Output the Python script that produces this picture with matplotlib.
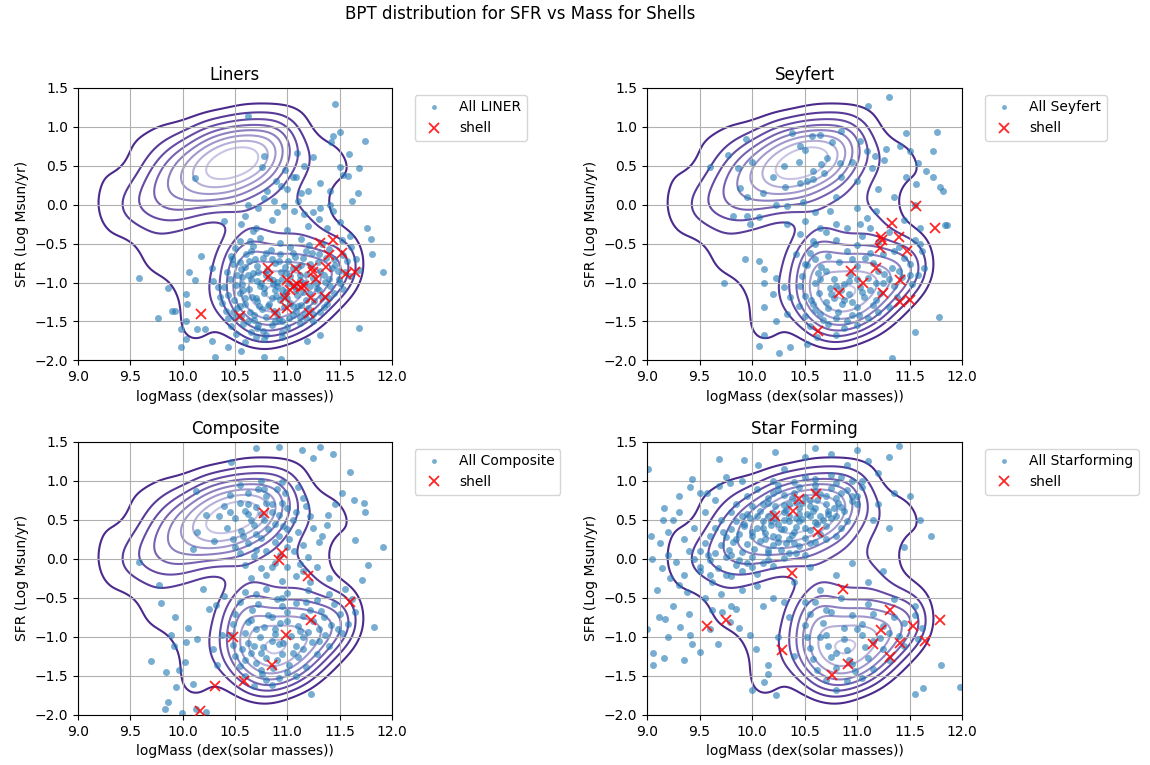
"""BPT classes in the SFR vs stellar mass plane, with shell galaxies marked."""

import numpy as np
import matplotlib
matplotlib.use("Agg")
import matplotlib.pyplot as plt
from matplotlib.colors import LinearSegmentedColormap

# ---- blue clouds: (logMass, SFR) ----
liner_pts = [
    (11.46, 1.30), (11.50, 0.94), (11.44, 0.88), (11.42, 0.80), (11.74, 0.82), (11.59, 0.65),
    (10.62, 1.14), (11.09, 0.67), (11.25, 0.61), (11.16, 0.50), (11.50, 0.48), (11.58, 0.37),
    (11.53, 0.38), (11.69, 0.47), (10.78, 0.62), (10.76, 0.48), (10.12, 0.34), (10.98, 0.45),
    (11.08, 0.35), (10.89, 0.30), (10.81, 0.18), (10.94, 0.24), (11.00, 0.20), (11.13, 0.15),
    (11.20, 0.18), (11.31, 0.28), (11.41, 0.18), (11.68, 0.15), (11.62, 0.05), (10.62, 0.00),
    (10.72, -0.04), (10.78, 0.09), (10.87, 0.05), (10.97, -0.02), (11.06, -0.08), (11.16, -0.12),
    (11.25, -0.10), (11.31, -0.04), (11.41, 0.00), (11.44, -0.08), (10.40, -0.21), (10.56, -0.25),
    (10.67, -0.34), (10.64, -0.47), (11.76, -0.30), (11.80, -0.44), (11.81, -0.64), (11.91, -0.87),
    (11.69, -1.58), (9.58, -0.94), (9.86, -1.07), (9.76, -1.45), (9.90, -1.36), (9.93, -1.36),
    (10.03, -1.15), (10.04, -1.27), (10.06, -0.87), (10.12, -0.97), (10.18, -0.66), (9.98, -1.60),
    (10.03, -1.50), (9.98, -1.83), (10.03, -1.73), (10.14, -1.60), (10.21, -1.60), (10.28, -1.75),
    (10.31, -1.96), (10.43, -1.83), (10.56, -1.88), (10.78, -1.96), (10.94, -1.98), (11.19, -1.75),
    (11.31, -1.68), (10.28, -0.81), (10.29, -0.98), (10.34, -1.06), (10.36, -1.19),
    (10.70, -0.30), (10.85, -0.20), (11.00, -0.32), (11.20, -0.28), (11.38, -0.30), (11.50, -0.22),
    (10.90, -0.10), (11.10, 0.05), (11.30, -0.18), (10.60, -0.15), (11.60, -0.40), (11.05, 0.35),
    (10.55, -0.47), (10.74, -0.43), (10.93, -0.49), (11.13, -0.44), (11.33, -0.50), (11.52, -0.46),
    (10.50, -0.56), (10.67, -0.53), (10.84, -0.58), (11.03, -0.55), (11.21, -0.52), (11.40, -0.57),
    (11.61, -0.55), (10.46, -0.66), (10.61, -0.63), (10.77, -0.68), (10.93, -0.64), (11.07, -0.67),
    (11.24, -0.62), (11.37, -0.69), (11.53, -0.65), (11.66, -0.70), (10.48, -0.76), (10.63, -0.73),
    (10.71, -0.79), (10.88, -0.75), (11.01, -0.72), (11.13, -0.78), (11.29, -0.74), (11.46, -0.77),
    (11.57, -0.73), (10.42, -0.86), (10.56, -0.83), (10.67, -0.88), (10.81, -0.84), (10.94, -0.87),
    (11.05, -0.82), (11.19, -0.89), (11.31, -0.85), (11.43, -0.81), (11.55, -0.87), (11.69, -0.84),
    (10.45, -0.96), (10.57, -0.93), (10.71, -0.98), (10.83, -0.94), (10.90, -0.99), (11.03, -0.92),
    (11.12, -0.97), (11.25, -0.94), (11.36, -0.99), (11.49, -0.95), (11.60, -0.92), (10.40, -1.06),
    (10.51, -1.03), (10.63, -1.08), (10.74, -1.04), (10.86, -1.02), (10.95, -1.09), (11.06, -1.05),
    (11.16, -1.01), (11.28, -1.07), (11.41, -1.04), (11.53, -1.08), (10.43, -1.16), (10.55, -1.13),
    (10.66, -1.18), (10.78, -1.14), (10.89, -1.17), (10.99, -1.12), (11.09, -1.16), (11.21, -1.13),
    (11.33, -1.18), (11.45, -1.14), (10.38, -1.26), (10.49, -1.23), (10.60, -1.28), (10.71, -1.24),
    (10.83, -1.27), (10.93, -1.22), (11.03, -1.26), (11.13, -1.29), (11.26, -1.24), (11.38, -1.27),
    (10.41, -1.36), (10.52, -1.33), (10.64, -1.38), (10.76, -1.34), (10.87, -1.37), (10.97, -1.32),
    (11.08, -1.36), (11.20, -1.33), (11.31, -1.38), (10.43, -1.46), (10.56, -1.43), (10.68, -1.48),
    (10.80, -1.44), (10.92, -1.47), (11.05, -1.42), (11.18, -1.46), (10.46, -1.56), (10.58, -1.53),
    (10.71, -1.58), (10.85, -1.54), (11.00, -1.57), (11.12, -1.52), (10.51, -1.66), (10.65, -1.63),
    (10.80, -1.68), (10.95, -1.64), (10.60, -1.76), (10.78, -1.73),
    (10.62, -0.90), (10.75, -1.00), (10.88, -1.10), (11.00, -1.20), (11.12, -0.90), (11.22, -1.05),
    (10.70, -1.20), (10.82, -1.30), (10.95, -0.95), (11.08, -1.10), (11.18, -1.22), (10.58, -1.10),
    (10.68, -1.42), (10.90, -1.40), (11.10, -1.30), (11.30, -1.10), (11.35, -0.90), (10.80, -0.90),
    (10.98, -0.80), (11.15, -0.68), (10.55, -1.30), (10.72, -1.55), (10.50, -1.45), (11.25, -1.40),
    (11.40, -1.20), (10.85, -0.70), (10.65, -0.60), (11.45, -0.70), (10.95, -1.50), (10.60, -0.80),
    (10.52, -0.90), (10.65, -0.96), (10.78, -1.07), (10.90, -1.04), (11.02, -1.00), (11.15, -1.12),
    (11.27, -1.00), (11.40, -0.95), (10.60, -1.20), (10.73, -1.30), (10.85, -1.20), (10.96, -1.17),
    (11.05, -1.30), (11.17, -1.40), (10.62, -1.50), (10.77, -1.62), (10.88, -1.50), (11.02, -1.46),
    (10.48, -1.38), (10.57, -1.02), (10.69, -0.70), (10.80, -0.62), (10.92, -0.72), (11.05, -0.62),
    (11.18, -0.60), (11.30, -0.64), (11.48, -0.85), (11.50, -1.00), (11.35, -1.32), (10.99, -0.88),
    (10.86, -0.97), (10.72, -0.87), (11.10, -0.80), (11.22, -0.76), (10.47, -0.70), (10.55, -0.74),
    (11.12, -1.44), (10.95, -1.70), (10.70, -1.70), (11.25, -1.50),
]

seyfert_pts = [
    (11.30, 1.39), (11.10, 1.27), (9.94, 0.85), (9.60, 0.48), (9.77, 0.64), (9.87, 0.47),
    (9.89, 0.22), (9.73, -1.00), (9.93, -0.70), (10.07, -0.72), (10.11, -0.83), (10.11, -1.00),
    (9.82, -0.15), (9.95, -0.15), (10.07, -0.16), (9.98, -0.25), (10.23, 0.00), (10.33, -0.02),
    (10.49, 0.03), (10.31, 0.23), (10.46, 0.28), (10.58, 0.33), (10.69, 0.41), (10.71, 0.60),
    (10.84, 0.54), (10.76, 0.80), (10.57, 0.88), (10.46, 0.75), (10.38, 0.92), (10.66, 0.52),
    (10.58, 0.43), (10.52, 0.30), (11.03, 0.82), (11.09, 0.69), (11.17, 0.62), (11.14, 0.47),
    (11.28, 0.71), (11.26, 0.58), (11.41, 0.75), (11.50, 0.69), (11.47, 0.92), (11.76, 0.94),
    (11.72, 0.69), (11.58, 0.54), (11.66, 0.43), (11.72, 0.35), (11.79, 0.23), (11.82, 0.18),
    (11.56, 0.26), (11.47, 0.35), (11.84, -0.26), (11.86, -0.26), (11.78, -1.44), (11.55, -1.64),
    (11.33, -1.97), (10.07, -1.81), (10.11, -1.68), (10.11, -1.32), (10.20, -1.15), (10.23, -1.49),
    (10.26, -1.90), (10.36, -1.83), (10.52, -1.79), (11.00, -0.04), (11.09, -0.17), (11.18, -0.08),
    (11.03, -0.25), (11.12, -0.30), (10.74, -0.08), (10.80, -0.25), (10.65, -0.30), (10.58, -0.47),
    (10.50, -0.21), (10.33, -0.25), (10.46, -0.38), (10.42, -0.64), (10.52, -0.77), (10.23, -0.94),
    (10.30, -1.06), (10.36, -1.19), (10.33, -1.40),
    (10.60, -0.50), (10.80, -0.45), (11.00, -0.52), (11.20, -0.48), (11.40, -0.55), (11.55, -0.45),
    (10.55, -0.62), (10.72, -0.66), (10.90, -0.60), (11.08, -0.68), (11.25, -0.63), (11.45, -0.68),
    (11.62, -0.60), (10.50, -0.76), (10.66, -0.80), (10.83, -0.74), (11.00, -0.79), (11.15, -0.75),
    (11.33, -0.81), (11.50, -0.76), (11.64, -0.82), (10.48, -0.92), (10.63, -0.88), (10.78, -0.95),
    (10.93, -0.90), (11.10, -0.94), (11.26, -0.89), (11.43, -0.93), (11.58, -0.90), (10.46, -1.04),
    (10.60, -1.00), (10.74, -1.07), (10.88, -1.02), (11.03, -1.06), (11.18, -1.01), (11.35, -1.05),
    (11.52, -1.02), (10.50, -1.17), (10.64, -1.14), (10.78, -1.20), (10.92, -1.15), (11.07, -1.19),
    (11.22, -1.14), (11.38, -1.18), (10.45, -1.30), (10.58, -1.27), (10.72, -1.33), (10.86, -1.28),
    (11.00, -1.32), (11.15, -1.29), (11.30, -1.31), (10.50, -1.43), (10.65, -1.40), (10.80, -1.46),
    (10.95, -1.42), (11.10, -1.45), (10.55, -1.56), (10.72, -1.53), (10.88, -1.58), (11.00, -1.55),
    (10.62, -1.70), (10.80, -1.68), (10.70, -0.85), (10.85, -1.10), (11.00, -0.95), (11.12, -1.10),
    (10.70, -1.25), (10.95, -1.25), (11.30, -0.95), (10.60, -1.35), (10.82, -1.38), (11.20, -0.85),
    (10.90, -0.30), (11.05, -0.40), (11.30, -0.35), (11.45, -0.20), (11.60, -0.30), (10.70, -0.35),
    (11.55, 0.00), (11.35, 0.10), (11.20, 0.20), (11.00, 0.30), (10.80, 0.10), (10.60, -0.10),
    (10.30, 0.50), (10.45, 0.55), (10.20, 0.35), (10.00, 0.55), (10.50, 0.70), (10.65, 0.90),
    (10.85, 0.95), (10.95, 0.55), (10.85, 0.35), (10.10, 0.15), (9.95, 0.10),
    (10.65, -0.95), (10.80, -1.05), (10.92, -0.98), (11.05, -1.12), (11.18, -1.22), (10.75, -1.15),
    (10.88, -1.22), (11.02, -1.42), (10.68, -1.48), (11.25, -1.00), (11.40, -0.85), (11.12, -0.62),
    (10.95, -0.70), (10.60, -0.70), (11.35, -0.60), (11.50, -0.90), (10.90, -1.50), (11.20, -1.38),
    (10.56, -1.22), (11.60, -0.50),
]

composite_pts = [
    (10.70, 1.42), (10.92, 1.44), (11.14, 1.39), (11.31, 1.44), (11.44, 1.35), (11.25, 1.29),
    (10.46, 1.24), (11.60, 1.12), (11.52, 0.84), (11.64, 0.76), (11.73, 0.72), (11.74, 0.60),
    (11.46, 0.71), (11.39, 0.56), (11.38, 0.43), (11.33, 0.30), (11.65, 0.24), (11.91, 0.15),
    (11.77, -0.08), (11.71, -0.27), (11.83, -0.87), (10.13, 0.87), (10.22, 0.56), (10.14, 0.35),
    (10.30, 0.23), (10.10, 0.13), (9.58, -0.04), (9.77, -0.34), (9.79, -0.56), (9.93, -0.74),
    (9.89, -0.98), (9.92, -1.11), (10.05, -0.89), (10.03, -1.06), (10.14, -1.03), (10.19, -0.38),
    (10.25, -0.64), (10.32, -0.59), (10.40, -0.47), (9.70, -1.31), (9.84, -1.45), (9.97, -1.43),
    (10.02, -1.32), (10.10, -1.60), (9.94, -1.64), (9.86, -1.84), (9.83, -1.92), (9.99, -1.98),
    (10.13, -1.92), (10.22, -1.96), (11.23, -1.73), (10.29, -1.15), (10.33, -1.36), (10.38, -0.98),
    (10.55, 0.95), (10.75, 1.00), (10.95, 0.98), (11.10, 0.92), (10.45, 0.82), (10.62, 0.85),
    (10.80, 0.80), (10.98, 0.84), (11.15, 0.78), (10.40, 0.68), (10.55, 0.72), (10.70, 0.66),
    (10.85, 0.70), (11.00, 0.65), (11.18, 0.68), (10.35, 0.55), (10.50, 0.52), (10.62, 0.58),
    (10.78, 0.50), (10.92, 0.56), (11.05, 0.50), (11.22, 0.55), (10.42, 0.40), (10.56, 0.36),
    (10.68, 0.43), (10.82, 0.38), (10.96, 0.42), (11.10, 0.35), (11.25, 0.40), (10.48, 0.25),
    (10.62, 0.20), (10.75, 0.27), (10.88, 0.22), (11.02, 0.26), (11.15, 0.18), (11.30, 0.22),
    (10.55, 0.08), (10.68, 0.04), (10.80, 0.10), (10.93, 0.05), (11.06, 0.10), (11.20, 0.02),
    (10.60, -0.08), (10.75, -0.12), (10.88, -0.05), (11.00, -0.10), (11.12, -0.06), (11.28, -0.10),
    (10.65, -0.25), (10.80, -0.20), (10.95, -0.28), (11.08, -0.22), (11.22, -0.30), (11.40, -0.25),
    (10.60, 0.62), (10.72, 0.90), (10.90, 0.90), (10.85, 0.60), (10.70, 0.32), (11.00, 0.15),
    (10.50, 0.15), (10.65, 0.50), (10.80, 0.72), (10.92, 0.30),
    (10.60, -0.42), (10.80, -0.38), (11.00, -0.44), (11.20, -0.40), (11.40, -0.45), (11.55, -0.38),
    (10.55, -0.55), (10.72, -0.58), (10.90, -0.52), (11.08, -0.57), (11.28, -0.53), (11.45, -0.58),
    (11.62, -0.52), (10.50, -0.70), (10.66, -0.66), (10.82, -0.72), (11.00, -0.68), (11.15, -0.73),
    (11.32, -0.67), (11.50, -0.71), (11.65, -0.68), (10.48, -0.84), (10.62, -0.81), (10.78, -0.87),
    (10.93, -0.82), (11.10, -0.86), (11.25, -0.80), (11.42, -0.85), (11.58, -0.83), (10.45, -0.97),
    (10.60, -0.95), (10.74, -1.00), (10.88, -0.96), (11.04, -0.99), (11.20, -0.94), (11.36, -0.98),
    (11.52, -0.95), (10.48, -1.10), (10.62, -1.08), (10.77, -1.13), (10.92, -1.09), (11.08, -1.12),
    (11.24, -1.07), (11.40, -1.11), (10.50, -1.24), (10.65, -1.21), (10.80, -1.27), (10.95, -1.22),
    (11.10, -1.26), (11.28, -1.22), (10.55, -1.37), (10.70, -1.34), (10.86, -1.40), (11.02, -1.36),
    (11.18, -1.38), (10.60, -1.50), (10.76, -1.48), (10.92, -1.53), (11.08, -1.50), (10.68, -1.63),
    (10.85, -1.62), (10.70, -0.90), (10.85, -1.05), (11.00, -0.80), (11.15, -1.00), (10.75, -1.20),
    (10.95, -0.60), (11.30, -0.90), (10.60, -1.30), (11.05, -1.20), (10.85, -0.75),
    (10.62, 0.70), (10.75, 0.58), (10.88, 0.45), (11.00, 0.38), (10.70, 0.12), (10.85, -0.10),
    (11.15, -0.15), (10.78, 0.90), (10.95, 0.72), (10.58, 0.30), (10.45, 0.60), (11.08, 0.60),
    (10.70, -0.45), (10.95, -0.50), (11.18, -0.55), (10.65, -0.78), (10.88, -0.90), (11.12, -0.92),
    (11.35, -0.75), (10.68, -1.12), (10.90, -1.30), (11.15, -1.15), (10.75, -1.42), (11.00, -1.45),
    (11.30, -1.05), (11.48, -0.90), (10.57, -1.15), (10.80, -1.55), (10.96, -1.08), (11.22, -0.65),
]

starforming_pts = [
    (10.20, 1.00), (10.40, 0.98), (10.60, 1.02), (10.80, 0.97), (10.95, 1.00),
    (10.05, 0.90), (10.25, 0.88), (10.45, 0.92), (10.60, 0.87), (10.75, 0.91), (10.90, 0.88), (11.05, 0.92),
    (9.95, 0.80), (10.15, 0.78), (10.30, 0.82), (10.50, 0.79), (10.65, 0.83), (10.80, 0.78), (10.95, 0.81),
    (9.85, 0.70), (10.00, 0.68), (10.15, 0.72), (10.30, 0.69), (10.42, 0.73), (10.55, 0.68), (10.70, 0.71),
    (10.85, 0.67), (11.00, 0.70), (9.80, 0.60), (9.95, 0.58), (10.08, 0.62), (10.20, 0.59), (10.32, 0.63),
    (10.45, 0.58), (10.58, 0.61), (10.72, 0.57), (10.88, 0.62), (9.70, 0.50), (9.85, 0.48), (9.98, 0.52),
    (10.10, 0.49), (10.22, 0.53), (10.35, 0.48), (10.48, 0.51), (10.60, 0.47), (10.75, 0.52), (10.90, 0.49),
    (9.65, 0.40), (9.80, 0.38), (9.92, 0.42), (10.05, 0.39), (10.18, 0.43), (10.30, 0.38), (10.42, 0.41),
    (10.55, 0.37), (10.70, 0.42), (10.85, 0.39), (9.60, 0.30), (9.75, 0.28), (9.88, 0.32), (10.00, 0.29),
    (10.12, 0.33), (10.25, 0.28), (10.38, 0.31), (10.50, 0.27), (10.65, 0.32), (10.80, 0.29), (9.55, 0.20),
    (9.70, 0.18), (9.82, 0.22), (9.95, 0.19), (10.08, 0.23), (10.20, 0.18), (10.32, 0.21), (10.45, 0.17),
    (10.60, 0.22), (9.50, 0.10), (9.65, 0.08), (9.78, 0.12), (9.90, 0.09), (10.02, 0.13), (10.15, 0.08),
    (10.28, 0.11), (10.42, 0.07), (9.45, 0.00), (9.60, -0.02), (9.75, 0.02), (9.88, -0.01), (10.00, 0.03),
    (10.15, -0.02), (10.30, 0.01), (9.50, -0.10), (9.68, -0.12), (9.85, -0.08), (10.00, -0.11), (10.20, -0.09),
    (9.60, -0.20), (9.80, -0.22), (10.05, -0.19),
    (10.25, 0.45), (10.35, 0.55), (10.45, 0.65), (10.55, 0.75), (10.65, 0.55), (10.50, 0.40), (10.40, 0.35),
    (10.30, 0.60), (10.60, 0.65), (10.70, 0.80), (10.20, 0.30), (10.15, 0.55), (10.38, 0.78), (10.52, 0.58),
    (10.28, 0.38), (10.62, 0.45), (10.10, 0.40), (10.45, 0.48), (10.78, 0.65), (10.35, 0.25),
    (10.10, 0.70), (10.22, 0.68), (10.35, 0.70), (10.48, 0.72), (10.62, 0.76), (10.72, 0.62), (10.82, 0.72),
    (10.95, 0.74), (10.05, 0.55), (10.18, 0.48), (10.30, 0.50), (10.42, 0.53), (10.55, 0.55), (10.68, 0.50),
    (10.80, 0.55), (9.92, 0.45), (10.00, 0.35), (10.12, 0.25), (10.25, 0.22), (10.40, 0.20), (10.55, 0.20),
    (10.70, 0.25), (9.85, 0.25), (9.72, 0.35), (9.90, 0.55), (10.15, 0.12), (10.35, 0.08), (10.50, 0.05),
    (9.80, 0.05), (9.95, -0.05), (10.10, -0.05), (10.60, 0.95), (10.40, 0.85), (10.20, 0.85), (10.85, 0.85),
    (11.00, 0.80), (10.25, 0.95), (10.50, 1.05), (10.75, 1.08), (9.58, 0.05),
    (9.01, 1.15), (9.04, 0.30), (9.16, 0.65), (9.25, 0.50), (9.30, 0.80), (9.43, 1.03), (9.41, 0.92),
    (9.57, 0.84), (9.69, 1.28), (9.69, 0.94), (9.79, 0.97), (9.92, 1.27), (10.06, 1.20), (10.22, 1.37),
    (9.12, 0.20), (9.20, 0.05), (9.28, -0.04), (9.14, -0.12), (9.22, -0.25), (9.30, -0.34), (9.38, -0.42),
    (9.17, -0.77), (9.11, -0.74), (9.06, -1.21), (9.06, -1.36), (9.16, -1.27), (9.31, -0.87), (9.41, -0.98),
    (9.43, -1.09), (9.50, -1.19), (9.68, -1.09), (9.62, -0.66), (9.71, -0.68), (9.79, -0.81), (9.88, -0.89),
    (9.85, -0.64), (9.98, -0.98), (10.04, -1.15), (10.15, -1.36), (10.15, -1.47), (10.11, -1.58),
    (10.00, -1.68), (10.23, -1.75), (11.98, -1.64), (11.80, -1.36), (11.55, -1.73), (11.63, -1.66),
    (9.20, 0.35), (9.35, 0.25), (9.45, 0.40), (9.55, 0.60), (9.40, 0.10), (9.50, -0.15), (9.62, -0.30),
    (9.35, -0.20), (9.70, -0.45), (9.55, -0.50), (9.25, -0.60), (9.40, -0.70), (9.60, -0.90), (9.80, -0.60),
    (9.90, -0.40), (9.75, -0.20), (9.90, -0.15), (10.05, -0.35), (10.10, -0.60), (10.20, -0.50), (9.30, 0.60),
    (9.50, 0.85), (9.65, 0.75), (9.75, 1.05), (9.90, 1.00), (9.15, 0.50), (9.05, 0.00), (9.10, -0.40),
    (9.20, -1.00), (9.35, -1.30), (9.00, -0.90),
    (10.30, 1.15), (10.50, 1.30), (10.60, 1.42), (10.75, 1.35), (10.90, 1.20), (11.00, 1.40), (11.10, 1.25),
    (11.20, 1.10), (11.30, 1.30), (11.40, 1.45), (10.85, 1.05), (11.05, 1.00), (11.35, 0.85), (11.50, 0.80),
    (11.20, 0.70), (11.15, 0.50), (11.30, 0.40), (11.60, 0.50), (11.70, 0.30), (11.45, 0.15),
    (10.40, -0.30), (10.55, -0.10), (10.65, -0.40), (10.80, -0.20), (10.95, -0.05), (11.10, -0.30),
    (11.25, -0.15), (10.50, -0.55), (10.70, -0.65), (10.35, -0.75), (10.25, -1.00), (10.40, -1.25),
    (10.30, -0.55),
    (10.60, -0.55), (10.85, -0.50), (11.10, -0.58), (11.35, -0.52), (11.55, -0.60), (10.55, -0.70),
    (10.75, -0.68), (10.95, -0.72), (11.15, -0.70), (11.35, -0.74), (11.55, -0.72), (10.50, -0.85),
    (10.68, -0.82), (10.88, -0.88), (11.05, -0.84), (11.25, -0.86), (11.45, -0.82), (11.62, -0.88),
    (10.52, -1.00), (10.70, -0.97), (10.88, -1.03), (11.05, -0.98), (11.22, -1.02), (11.40, -0.99),
    (11.58, -1.03), (10.55, -1.14), (10.72, -1.12), (10.90, -1.17), (11.08, -1.13), (11.25, -1.16),
    (11.45, -1.12), (10.58, -1.28), (10.75, -1.26), (10.92, -1.30), (11.10, -1.27), (11.30, -1.30),
    (10.62, -1.42), (10.80, -1.40), (10.98, -1.44), (11.15, -1.41), (10.70, -1.55), (10.90, -1.57),
    (11.05, -1.53), (10.80, -1.68), (10.65, -1.00), (10.80, -1.20), (11.00, -0.90), (11.15, -1.05),
    (10.95, -1.35), (11.30, -0.95),
]

# ---- shell galaxies (red crosses) ----
liner_shell = [
    (10.18, -1.41), (10.55, -1.43), (10.82, -0.82), (10.82, -0.93), (10.88, -1.39), (11.00, -0.97),
    (11.08, -0.83), (11.03, -1.09), (11.06, -1.04), (11.09, -1.02), (11.13, -1.06), (11.16, -1.04),
    (10.98, -1.20), (11.00, -1.33), (11.21, -1.39), (11.23, -1.20), (11.24, -0.82), (11.25, -0.87),
    (11.27, -0.96), (11.36, -1.19), (11.37, -0.80), (11.40, -0.65), (11.31, -0.49), (11.44, -0.45),
    (11.52, -0.62), (11.56, -0.89), (11.65, -0.86),
]
seyfert_shell = [
    (11.56, -0.02), (11.33, -0.24), (11.74, -0.30), (11.23, -0.42), (11.24, -0.45), (11.40, -0.42),
    (11.22, -0.56), (11.48, -0.59), (11.18, -0.81), (10.94, -0.85), (11.06, -1.00), (11.41, -0.97),
    (10.83, -1.13), (11.25, -1.13), (11.41, -1.25), (11.50, -1.22), (10.63, -1.62),
]
composite_shell = [
    (10.78, 0.59), (10.95, 0.08), (10.92, -0.02), (11.20, -0.22), (11.60, -0.55), (11.23, -0.78),
    (10.48, -1.00), (10.99, -0.98), (10.85, -1.36), (10.59, -1.56), (10.31, -1.63), (10.17, -1.95),
]
starforming_shell = [
    (10.45, 0.77), (10.61, 0.83), (10.22, 0.55), (10.39, 0.61), (10.63, 0.35), (10.38, -0.18),
    (10.87, -0.39), (11.31, -0.66), (9.75, -0.78), (9.57, -0.86), (11.23, -0.91), (11.53, -0.86),
    (11.79, -0.78), (11.15, -1.09), (11.41, -1.08), (11.65, -1.05), (11.31, -1.26), (10.91, -1.35),
    (10.29, -1.17), (10.76, -1.49),
]

titles = ["Liners", "Seyfert", "Composite", "Star Forming"]
labels = ["All LINER", "All Seyfert", "All Composite", "All Starforming"]
clouds = [liner_pts, seyfert_pts, composite_pts, starforming_pts]
shells = [liner_shell, seyfert_shell, composite_shell, starforming_shell]
# the typed clouds undersample the star-forming class, so weight it up
# when building the common density map
class_weight = [1.0, 1.0, 1.0, 3.0]

# ---- common density contours from all classes together ----
allx = np.concatenate([np.array(c)[:, 0] for c in clouds])
ally = np.concatenate([np.array(c)[:, 1] for c in clouds])
allw = np.concatenate([np.full(len(c), w) for c, w in zip(clouds, class_weight)])
gx = np.linspace(8.8, 12.2, 240)
gy = np.linspace(-2.4, 1.9, 280)
bx, by = 0.15, 0.23
Kx = np.exp(-0.5 * ((gx[None, :] - allx[:, None]) / bx) ** 2)
Ky = np.exp(-0.5 * ((gy[None, :] - ally[:, None]) / by) ** 2)
dens = (Ky.T * allw) @ Kx
levels = dens.max() * np.linspace(0.2, 0.9, 8)
purples = LinearSegmentedColormap.from_list(
    "purp", ["#4b2a8c", "#6a4fa8", "#9a90c8", "#c9c4e4"])

fig = plt.figure(figsize=(11.5, 7.65), dpi=100)
fig.suptitle("BPT distribution for SFR vs Mass for Shells", x=0.452, y=0.993, fontsize=12)
positions = [
    [0.0678, 0.529, 0.273, 0.356],
    [0.5626, 0.529, 0.274, 0.356],
    [0.0678, 0.0654, 0.273, 0.357],
    [0.5626, 0.0654, 0.274, 0.357],
]

for i in range(4):
    ax = fig.add_axes(positions[i])
    ax.contour(gx, gy, dens, levels=levels, cmap=purples, linewidths=1.5, zorder=1)
    pts = np.array(clouds[i])
    sh = np.array(shells[i])
    ax.plot(pts[:, 0], pts[:, 1], "o", color="#1f77b4", alpha=0.6, markersize=5,
            markeredgewidth=0, label=labels[i], zorder=2)
    ax.plot(sh[:, 0], sh[:, 1], "x", color="red", markersize=6.5, markeredgewidth=1.3,
            alpha=0.85, label="shell", zorder=3)
    ax.set_xlim(9, 12)
    ax.set_ylim(-2, 1.5)
    ax.set_xticks(np.arange(9, 12.01, 0.5))
    ax.set_yticks(np.arange(-2, 1.51, 0.5))
    ax.grid(True)
    ax.set_title(titles[i], fontsize=12)
    ax.set_xlabel("logMass (dex(solar masses))")
    ax.set_ylabel("SFR (Log Msun/yr)")
    leg = ax.legend(loc="upper left", bbox_to_anchor=(1.05, 1))
    leg.legend_handles[0].set_markersize(3.5)

fig.savefig("out.png", dpi=100)
